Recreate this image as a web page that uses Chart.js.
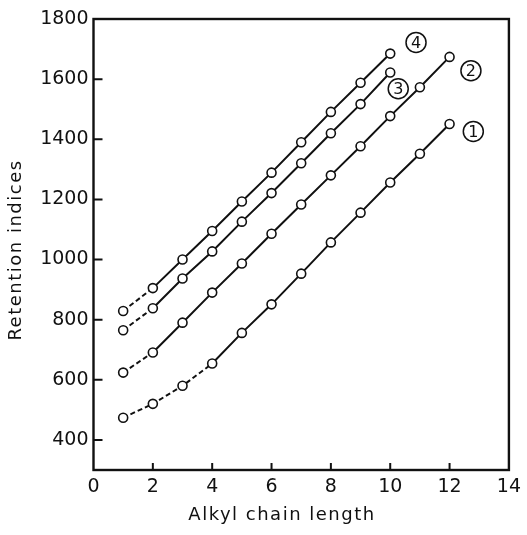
<!DOCTYPE html>
<html>
<head>
<meta charset="utf-8">
<script src="https://cdn.jsdelivr.net/npm/chart.js@4.4.1/dist/chart.umd.min.js"></script>
<style>
  html, body { margin: 0; padding: 0; background: #fff; }
  #wrap { width: 527px; height: 535px; position: relative; }
</style>
</head>
<body>
<div id="wrap"><canvas id="chart"></canvas></div>
<script>
// chain lengths (x)
const chainLength = [1, 2, 3, 4, 5, 6, 7, 8, 9, 10, 11, 12];

// retention indices
const series1 = [474, 520, 580, 654, 756, 851, 953, 1057, 1156, 1256, 1352, 1451];
const series2 = [624, 691, 790, 890, 987, 1086, 1183, 1280, 1377, 1477, 1573, 1674];
const series3 = [765, 838, 937, 1027, 1126, 1221, 1320, 1420, 1517, 1622];
const series4 = [829, 905, 1000, 1095, 1193, 1289, 1390, 1491, 1588, 1685];

// dashed part of each curve runs up to this chain length
const dashedUpTo = [4, 2, 2, 2];

// curve labels (circled numbers) and where they sit, in data units
const curveNames = ["1", "2", "3", "4"];
const labelX = [12.8, 12.72, 10.27, 10.87];
const labelY = [1426, 1628, 1568, 1722];

const xTicks = [0, 2, 4, 6, 8, 10, 12, 14];
const yTicks = [400, 600, 800, 1000, 1200, 1400, 1600, 1800];

const xTitle = "Alkyl chain length";
const yTitle = "Retention indices";

const FONT = "'DejaVu Sans', sans-serif";
const INK = "#111";

function makeDataset(values, dashTo) {
  return {
    data: values.map((v, i) => ({ x: chainLength[i], y: v })),
    borderColor: INK,
    borderWidth: 2,
    pointRadius: 4.5,
    pointBorderWidth: 1.6,
    pointBorderColor: INK,
    pointBackgroundColor: "#fff",
    tension: 0,
    segment: {
      borderDash: ctx => chainLength[ctx.p1DataIndex] <= dashTo ? [5, 3] : undefined
    }
  };
}

// frame, inward ticks, axis titles and circled labels
const decorations = {
  id: "decorations",
  beforeDatasetsDraw(chart) {
    const { ctx, chartArea: a, scales: { x, y } } = chart;
    ctx.save();
    ctx.strokeStyle = INK;
    ctx.lineWidth = 2.4;
    ctx.strokeRect(a.left, a.top, a.right - a.left, a.bottom - a.top);
    ctx.lineWidth = 2;
    ctx.beginPath();
    xTicks.slice(1, -1).forEach(t => {
      const px = x.getPixelForValue(t);
      ctx.moveTo(px, a.bottom);
      ctx.lineTo(px, a.bottom - 7);
    });
    yTicks.slice(0, -1).forEach(t => {
      const py = y.getPixelForValue(t);
      ctx.moveTo(a.left, py);
      ctx.lineTo(a.left + 9, py);
    });
    ctx.stroke();

    // axis titles, spaced out like the original lettering
    ctx.fillStyle = INK;
    ctx.font = "18px " + FONT;
    ctx.letterSpacing = "1.5px";
    ctx.textAlign = "center";
    ctx.textBaseline = "middle";
    ctx.fillText(xTitle, 282, 515);
    ctx.translate(16, 250);
    ctx.rotate(-Math.PI / 2);
    ctx.fillText(yTitle, 0, 0);
    ctx.restore();
  },
  afterDraw(chart) {
    const { ctx, scales: { x, y } } = chart;
    ctx.save();
    ctx.strokeStyle = INK;
    ctx.fillStyle = INK;
    ctx.lineWidth = 1.5;
    ctx.font = "16px " + FONT;
    ctx.textAlign = "center";
    ctx.textBaseline = "middle";
    curveNames.forEach((name, i) => {
      const px = x.getPixelForValue(labelX[i]);
      const py = y.getPixelForValue(labelY[i]);
      ctx.beginPath();
      ctx.arc(px, py, 10, 0, Math.PI * 2);
      ctx.stroke();
      ctx.fillText(name, px, py + 1);
    });
    ctx.restore();
  }
};

new Chart(document.getElementById("chart"), {
  type: "line",
  data: {
    datasets: [
      makeDataset(series1, dashedUpTo[0]),
      makeDataset(series2, dashedUpTo[1]),
      makeDataset(series3, dashedUpTo[2]),
      makeDataset(series4, dashedUpTo[3])
    ]
  },
  options: {
    responsive: true,
    maintainAspectRatio: false,
    animation: false,
    layout: { padding: { top: 19, right: 11, left: 0, bottom: 0 } },
    plugins: { legend: { display: false }, tooltip: { enabled: false } },
    scales: {
      x: {
        type: "linear",
        min: 0,
        max: 14,
        afterBuildTicks: s => { s.ticks = xTicks.map(v => ({ value: v })); },
        afterFit: s => { s.height = 65; },
        grid: { display: false, drawTicks: false },
        border: { display: false },
        ticks: { color: INK, font: { family: FONT, size: 19 }, padding: 6, maxRotation: 0, callback: v => String(v) },
        title: { display: false, text: xTitle }
      },
      y: {
        min: 300,
        max: 1800,
        afterBuildTicks: s => { s.ticks = yTicks.map(v => ({ value: v })); },
        afterFit: s => { s.width = 93.5; },
        grid: { display: false, drawTicks: false },
        border: { display: false },
        ticks: { color: INK, font: { family: FONT, size: 19 }, padding: 5, callback: v => String(v) },
        title: { display: false, text: yTitle }
      }
    }
  },
  plugins: [decorations]
});
</script>
</body>
</html>
